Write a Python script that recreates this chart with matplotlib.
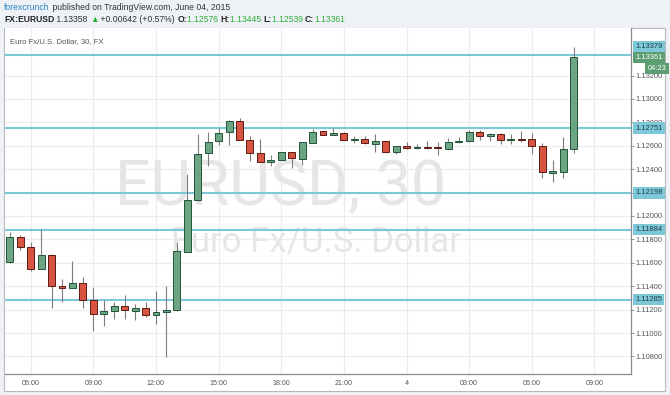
import numpy as np
import matplotlib
matplotlib.use("Agg")
import matplotlib.pyplot as plt
from matplotlib.patches import Rectangle

plt.rcParams['font.family'] = ['Liberation Sans', 'DejaVu Sans']

# EURUSD 30 min candles, 3 June 05:00 -> 4 June 08:00
opens = [1.11609, 1.11818, 1.11735, 1.11547, 1.11669, 1.11399, 1.11387, 1.11430, 1.11285, 1.11160,
         1.11185, 1.11228, 1.11190, 1.11216, 1.11154, 1.11177, 1.11197, 1.11695, 1.12137, 1.12536,
         1.12638, 1.12715, 1.12812, 1.12647, 1.12536, 1.12464, 1.12479, 1.12544, 1.12485, 1.12627,
         1.12724, 1.12695, 1.12707, 1.12647, 1.12655, 1.12618, 1.12641, 1.12547, 1.12598, 1.12579,
         1.12588, 1.12588, 1.12575, 1.12630, 1.12638, 1.12715, 1.12681, 1.12701, 1.12650, 1.12658,
         1.12654, 1.12598, 1.12370, 1.12379, 1.12576]
highs = [1.11861, 1.11840, 1.11775, 1.11886, 1.11672, 1.11462, 1.11618, 1.11481, 1.11391, 1.11282,
         1.11262, 1.11327, 1.11248, 1.11265, 1.11356, 1.11402, 1.11778, 1.12359, 1.12698, 1.12720,
         1.12750, 1.12821, 1.12835, 1.12684, 1.12656, 1.12519, 1.12548, 1.12548, 1.12632, 1.12744,
         1.12729, 1.12750, 1.12715, 1.12684, 1.12684, 1.12701, 1.12645, 1.12600, 1.12630, 1.12613,
         1.12644, 1.12630, 1.12664, 1.12673, 1.12735, 1.12735, 1.12712, 1.12712, 1.12701, 1.12726,
         1.12712, 1.12621, 1.12479, 1.12673, 1.13445]
lows = [1.11601, 1.11709, 1.11532, 1.11545, 1.11216, 1.11268, 1.11382, 1.11216, 1.11020, 1.11060,
        1.11117, 1.11122, 1.11111, 1.11134, 1.11077, 1.10792, 1.11188, 1.11690, 1.12130, 1.12430,
        1.12607, 1.12607, 1.12647, 1.12473, 1.12460, 1.12430, 1.12475, 1.12413, 1.12436, 1.12620,
        1.12690, 1.12690, 1.12648, 1.12627, 1.12618, 1.12550, 1.12541, 1.12527, 1.12576, 1.12573,
        1.12573, 1.12521, 1.12564, 1.12628, 1.12635, 1.12650, 1.12644, 1.12613, 1.12615, 1.12635,
        1.12527, 1.12322, 1.12288, 1.12322, 1.12539]
closes = [1.11818, 1.11738, 1.11547, 1.11669, 1.11399, 1.11387, 1.11430, 1.11285, 1.11160, 1.11188,
          1.11228, 1.11194, 1.11216, 1.11151, 1.11179, 1.11199, 1.11697, 1.12137, 1.12530, 1.12635,
          1.12712, 1.12812, 1.12650, 1.12536, 1.12464, 1.12479, 1.12544, 1.12498, 1.12630, 1.12720,
          1.12695, 1.12707, 1.12650, 1.12655, 1.12621, 1.12641, 1.12547, 1.12598, 1.12579, 1.12588,
          1.12579, 1.12581, 1.12632, 1.12638, 1.12715, 1.12681, 1.12701, 1.12650, 1.12658, 1.12650,
          1.12596, 1.12374, 1.12382, 1.12570, 1.13361]

levels = [1.13379, 1.12751, 1.12198, 1.11884, 1.11285]
time_pos = [2, 8, 14, 20, 26, 32, 38, 44, 50, 56]
time_labels = ['06:00', '09:00', '12:00', '15:00', '18:00', '21:00', '4', '03:00', '06:00', '09:00']
yticks = np.arange(1.108, 1.1321, 0.002)

W, H = 670, 395
BG = '#eef1f5'
UP, DN = '#6ba583', '#d75442'
UP_E, DN_E = '#225437', '#5b1a13'
LEVEL_C = '#7cc8d8'

fig = plt.figure(figsize=(W / 100, H / 100), dpi=100, facecolor=BG)
fig.patches.append(Rectangle((4 / W, 1 - 391 / H), 661 / W, 363 / H, transform=fig.transFigure,
                             facecolor='white', edgecolor='#b8b8b8', lw=0.8, zorder=-1))

ax = fig.add_axes([4.5 / W, 1 - 374 / H, 626.5 / W, 346 / H])
ax.set_xlim(-0.51, 59.5)
ax.set_ylim(1.106496, 1.136068)

for s in ['top', 'left']:
    ax.spines[s].set_visible(False)
for s in ['right', 'bottom']:
    ax.spines[s].set_color('#8a8a8a')
    ax.spines[s].set_linewidth(0.9)

ax.yaxis.tick_right()
ax.set_yticks(yticks)
ax.set_yticklabels(['%.5f' % v for v in yticks])
ax.set_xticks(time_pos)
ax.set_xticklabels(time_labels)
ax.tick_params(axis='y', length=2.5, width=0.6, color='#8a8a8a', labelsize=5.4, labelcolor='#555555', pad=1)
ax.tick_params(axis='x', length=0, labelsize=5.1, labelcolor='#555555', pad=4)
ax.grid(color='#ececec', lw=0.8, zorder=0)
ax.set_axisbelow(True)

# watermark
ax.text(0.441, 0.488, 'EURUSD, 30', transform=ax.transAxes, ha='center', va='baseline',
        fontsize=45, color='#e6e6e6', family='Roboto', zorder=1)
ax.text(0.498, 0.353, 'Euro Fx/U.S. Dollar', transform=ax.transAxes, ha='center', va='baseline',
        fontsize=25, color='#e6e6e6', family='Roboto', zorder=1)
ax.text(0.009, 0.962, 'Euro Fx/U.S. Dollar, 30, FX', transform=ax.transAxes, ha='left', va='center',
        fontsize=5.6, color='#555555')

for lv in levels:
    ax.axhline(lv, color=LEVEL_C, lw=1.5, zorder=2)

x = np.arange(len(opens))
o = np.array(opens)
c = np.array(closes)
up = c >= o
cols = np.where(up, UP, DN)
edges = np.where(up, UP_E, DN_E)
ax.vlines(x, lows, highs, color='#7d7d7d', lw=0.8, zorder=3)
body = np.where(np.abs(c - o) < 0.00004, 0.00004 * np.sign(c - o + 1e-12), c - o)
ax.bar(x, body, bottom=o, width=0.66, color=cols, edgecolor=edges, lw=0.7, zorder=4)

# right-side price boxes
def price_box(val, text, fc, tc, dy=0, xoff=0):
    ax.annotate(text, xy=(1, val), xycoords=('axes fraction', 'data'),
                xytext=(3 + xoff, dy), textcoords='offset points', ha='left', va='center',
                fontsize=5.4, color=tc, annotation_clip=False, zorder=10,
                bbox=dict(boxstyle='square,pad=0.3', fc=fc, ec='none'))

price_box(levels[0], '1.13379', LEVEL_C, '#1f3d45', dy=6)
for lv in levels[1:]:
    price_box(lv, '%.5f' % lv, LEVEL_C, '#1f3d45')
price_box(closes[-1], '1.13361', '#5d9d72', 'white', dy=-0.5)
price_box(closes[-1], '04:23', '#5d9d72', 'white', dy=-8.5, xoff=9)

# header
fig.canvas.draw()
r = fig.canvas.get_renderer()

def chain(xpx, ypx, parts):
    xf = xpx / W
    for s, col, wt in parts:
        t = fig.text(xf, 1 - ypx / H, s, color=col, fontweight=wt, fontsize=6.2, va='center')
        xf += t.get_window_extent(r).width / W

GR = '#2fae3c'
chain(4, 7, [('forexcrunch', '#2c86c4', 'normal'),
             (' published on TradingView.com, June 04, 2015', '#333333', 'normal')])
chain(4, 19, [('FX:EURUSD', '#222222', 'bold'), (' 1.13358 ', '#333333', 'normal'),
              ('\u25b2', GR, 'normal'), (' +0.00642 (+0.57%) ', '#333333', 'normal'),
              ('O:', '#222222', 'bold'), ('1.12576 ', GR, 'normal'),
              ('H:', '#222222', 'bold'), ('1.13445 ', GR, 'normal'),
              ('L:', '#222222', 'bold'), ('1.12539 ', GR, 'normal'),
              ('C:', '#222222', 'bold'), ('1.13361', GR, 'normal')])

fig.savefig('out.png', dpi=100, facecolor=BG)
